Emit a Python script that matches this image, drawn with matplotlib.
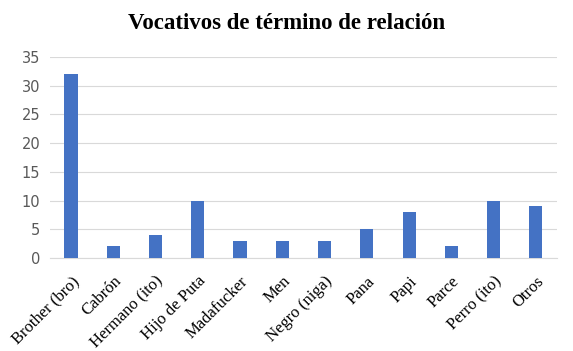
import matplotlib.pyplot as plt
import numpy as np

categories = ["Brother (bro)", "Cabrón", "Hermano (ito)", "Hijo de Puta", "Madafucker",
              "Men", "Negro (niga)", "Pana", "Papi", "Parce", "Perro (ito)", "Otros"]
values = [32, 2, 4, 10, 3, 3, 3, 5, 8, 2, 10, 9]
yticks = [0, 5, 10, 15, 20, 25, 30, 35]

fig = plt.figure(figsize=(5.73, 3.51), dpi=100)
ax = fig.add_axes([0.087, 0.265, 0.885, 0.573])

x = np.arange(len(categories))
ax.bar(x, values, width=0.31, color='#4472C4', zorder=3)

ax.set_ylim(0, 35)
ax.set_xlim(-0.5, len(categories) - 0.5)
ax.set_yticks(yticks)
ax.yaxis.grid(True, color='#d9d9d9', linewidth=0.8, zorder=0)
ax.tick_params(axis='both', length=0)
ax.tick_params(axis='y', labelcolor='#595959', labelsize=10.5, pad=7)
for s in ['top', 'right', 'left']:
    ax.spines[s].set_visible(False)
ax.spines['bottom'].set_color('#d9d9d9')

ax.set_xticks(x)
ax.set_xticklabels(categories, rotation=45, ha='right', rotation_mode='anchor',
                   fontfamily='Liberation Serif', fontsize=12, color='black')
ax.tick_params(axis='x', pad=11)

fig.suptitle('Vocativos de término de relación', x=0.5, y=0.962,
             fontfamily='Liberation Serif', fontweight='bold', fontsize=16.5)

plt.savefig('out.png', dpi=100)
